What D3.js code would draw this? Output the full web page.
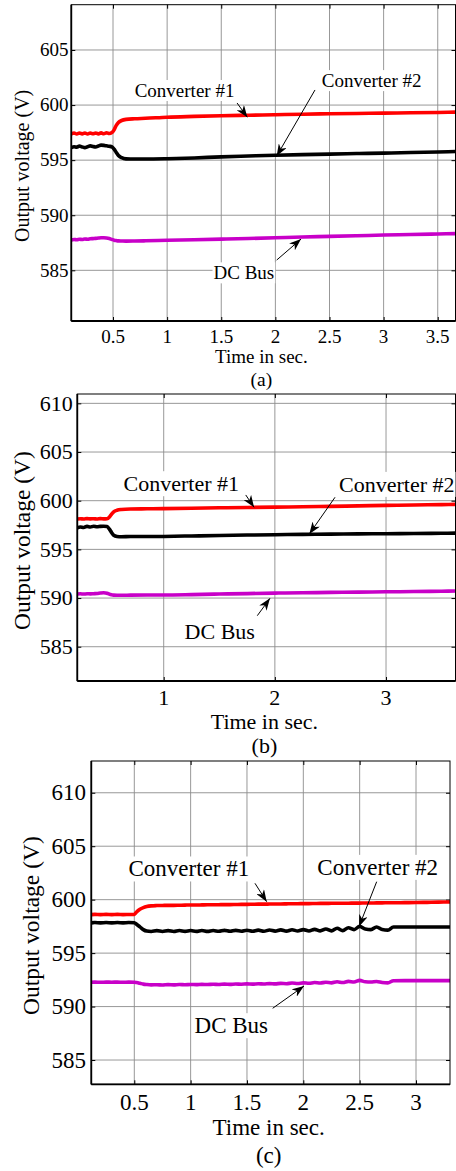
<!DOCTYPE html>
<html>
<head>
<meta charset="utf-8">
<script src="https://cdn.jsdelivr.net/npm/d3@7"></script>
<style>
  html, body { margin: 0; padding: 0; background: #fff; }
  svg { display: block; }
  text { font-family: "Liberation Serif", "Times New Roman", Times, serif; fill: #000; }
</style>
</head>
<body>
<svg id="chart" width="456" height="1171"></svg>
<script>
// ---------------- DATA ----------------
// Panel (a)
const timeA = [0.115,0.14,0.165,0.19,0.215,0.24,0.265,0.29,0.315,0.34,0.365,0.39,0.415,0.44,0.465,0.49,0.51,0.53,0.55,0.58,0.62,0.7,0.8,1.0,1.25,1.5,1.75,2.0,2.25,2.5,2.75,3.0,3.25,3.5,3.665];
const conv1A = [597.38,597.46,597.37,597.47,597.38,597.46,597.37,597.47,597.39,597.47,597.38,597.48,597.40,597.49,597.42,597.50,597.75,598.15,598.42,598.6,598.7,598.76,598.8,598.9,598.97,599.03,599.08,599.12,599.17,599.21,599.24,599.27,599.3,599.33,599.36];
const conv2A = [596.15,596.22,596.18,596.28,596.2,596.14,596.22,596.3,596.24,596.2,596.28,596.36,596.34,596.3,596.26,596.2,596.0,595.7,595.42,595.22,595.12,595.1,595.1,595.13,595.2,595.3,595.38,595.45,595.5,595.55,595.6,595.64,595.69,595.74,595.78];
const dcA = [587.76,587.8,587.77,587.82,587.8,587.84,587.82,587.86,587.88,587.9,587.93,587.95,587.95,587.93,587.88,587.8,587.74,587.7,587.67,587.66,587.65,587.66,587.68,587.73,587.78,587.83,587.89,587.95,588.02,588.08,588.14,588.2,588.25,588.3,588.33];
const xTicksA = [0.5,1,1.5,2,2.5,3,3.5];
const yTicksA = [585,590,595,600,605];

// Panel (b)
const timeB = [0.223,0.25,0.28,0.31,0.34,0.37,0.4,0.43,0.46,0.49,0.51,0.53,0.55,0.58,0.62,0.7,0.85,1.0,1.25,1.5,1.75,2.0,2.25,2.5,2.75,3.0,3.25,3.5,3.625];
const conv1B = [598.12,598.15,598.12,598.16,598.13,598.15,598.12,598.16,598.13,598.15,598.3,598.6,598.85,599.02,599.1,599.15,599.17,599.19,599.23,599.27,599.3,599.34,599.38,599.42,599.47,599.52,599.56,599.6,599.62];
const conv2B = [597.22,597.3,597.25,597.36,597.3,597.38,597.32,597.36,597.38,597.35,597.1,596.75,596.45,596.33,596.3,596.32,596.32,596.33,596.38,596.42,596.47,596.51,596.54,596.57,596.59,596.61,596.63,596.65,596.67];
const dcB = [590.42,590.44,590.41,590.44,590.43,590.45,590.47,590.52,590.55,590.5,590.4,590.33,590.3,590.29,590.29,590.3,590.31,590.31,590.35,590.41,590.46,590.51,590.54,590.58,590.61,590.64,590.67,590.7,590.72];
const xTicksB = [1,2,3];
const yTicksB = [585,590,595,600,605,610];

// Panel (c)
const timeC = [0.118,0.15,0.2,0.25,0.3,0.35,0.4,0.45,0.5,0.52,0.55,0.58,0.61,0.65,
  0.7,0.75,0.8,0.85,0.9,0.95,1.0,1.05,1.1,1.15,1.2,1.25,1.3,1.35,1.4,1.45,1.5,1.55,1.6,1.65,1.7,1.75,1.8,1.85,1.9,1.95,2.0,2.05,2.1,2.15,2.2,2.25,2.3,2.35,2.4,2.45,2.5,2.55,2.6,2.65,2.7,2.75,2.8,
  2.9,3.0,3.1,3.2,3.302];
const conv1C = [598.6,598.62,598.6,598.62,598.6,598.62,598.6,598.61,598.62,598.85,599.1,599.25,599.35,599.42,
  599.45,599.46,599.47,599.47,599.48,599.49,599.5,599.5,599.51,599.52,599.52,599.53,599.54,599.54,599.55,599.56,599.56,599.57,599.58,599.58,599.59,599.6,599.6,599.61,599.62,599.62,599.63,599.63,599.64,599.65,599.65,599.66,599.66,599.67,599.67,599.68,599.68,599.69,599.69,599.7,599.7,599.71,599.71,
  599.72,599.73,599.75,599.77,599.78];
const conv2C = [597.83,597.86,597.83,597.86,597.83,597.86,597.83,597.86,597.84,597.7,597.45,597.2,597.06,597.02,
  597.1,597.02,597.1,597.02,597.11,597.03,597.11,597.03,597.12,597.03,597.12,597.04,597.13,597.04,597.13,597.05,597.14,597.05,597.15,597.05,597.16,597.06,597.17,597.06,597.18,597.07,597.2,597.07,597.22,597.08,597.26,597.08,597.32,597.1,597.38,597.2,597.5,597.25,597.2,597.45,597.2,597.15,597.45,
  597.45,597.45,597.45,597.45,597.45];
const dcC = [592.27,592.29,592.27,592.29,592.28,592.29,592.27,592.29,592.28,592.25,592.18,592.1,592.06,592.03,
  592.04,592.02,592.05,592.03,592.06,592.04,592.07,592.05,592.08,592.06,592.09,592.07,592.1,592.08,592.11,592.09,592.12,592.1,592.13,592.11,592.15,592.12,592.17,592.14,592.2,592.16,592.22,592.18,592.25,592.2,592.28,592.22,592.32,592.25,592.36,592.3,592.45,592.32,592.3,592.35,592.25,592.22,592.42,
  592.43,592.43,592.43,592.43,592.43];
const xTicksC = [0.5,1,1.5,2,2.5,3];
const yTicksC = [585,590,595,600,605,610];

const seriesNames = ["Converter #1", "Converter #2", "DC Bus"];
const xLabel = "Time in sec.";
const yLabel = "Output voltage (V)";
const panelLabels = ["(a)", "(b)", "(c)"];

// annotation anchors in data units: [textT, textV, arrowStartT, arrowStartV, arrowEndT, arrowEndV]
const annotA = [[1.161,601.30,1.646,600.19,1.741,598.89],[2.89,602.2,2.366,601.37,2.012,595.37],[1.709,584.75,2.012,585.93,2.237,587.84]];
const annotB = [[1.158,601.72,1.738,600.59,1.813,599.32],[3.097,601.65,2.541,600.35,2.31,596.58],[1.504,586.5,1.842,588.19,1.956,589.97]];
const annotC = [[0.984,602.88,1.571,601.53,1.675,599.81],[2.66,603.03,2.651,601.68,2.494,597.47],[1.361,588.22,1.728,589.84,2.006,591.92]];

// ---------------- LAYOUT ----------------
const colors = ["#ff0000", "#000000", "#c800c8"];
const svg = d3.select("#chart");

const defs = svg.append("defs");
defs.append("marker")
  .attr("id", "arrowhead")
  .attr("viewBox", "0 0 12 9")
  .attr("refX", 12).attr("refY", 4.5)
  .attr("markerWidth", 12).attr("markerHeight", 9)
  .attr("markerUnits", "userSpaceOnUse")
  .attr("orient", "auto")
  .append("path")
  .attr("d", "M0,0 L12,4.5 L0,9 L3.5,4.5 Z")
  .attr("fill", "#000");

const panels = [
  { id: "a", time: timeA, series: [conv1A, conv2A, dcA], xTicks: xTicksA, yTicks: yTicksA,
    xDom: [0.1147, 3.664], yDom: [580.4, 609.11], left: 71.3, top: 4.7, right: 455.5, bottom: 321,
    fs: 19, labFs: 20, panFs: 19.5, yTickX: 68.5, xTickBase: 342.7, xLabBase: 363, panBase: 386, yLabX: 29.3,
    annot: annotA, tickFmt: d => String(d) },
  { id: "b", time: timeB, series: [conv1B, conv2B, dcB], xTicks: xTicksB, yTicks: yTicksB,
    xDom: [0.2227, 3.625], yDom: [581.48, 610.96], left: 77.3, top: 394, right: 455.5, bottom: 681,
    fs: 22, labFs: 23.5, panFs: 22, yTickX: 72.7, xTickBase: 705, xLabBase: 728.5, panBase: 753, yLabX: 30.3,
    annot: annotB, tickFmt: d => String(d) },
  { id: "c", time: timeC, series: [conv1C, conv2C, dcC], xTicks: xTicksC, yTicks: yTicksC,
    xDom: [0.1184, 3.3017], yDom: [582.73, 612.97], left: 91.3, top: 761, right: 450, bottom: 1084.3,
    fs: 23, labFs: 23.5, panFs: 23, yTickX: 86, xTickBase: 1110, xLabBase: 1134.5, panBase: 1163, yLabX: 38.6,
    annot: annotC, tickFmt: d => String(d) }
];

panels.forEach((p, pi) => {
  const x = d3.scaleLinear().domain(p.xDom).range([p.left, p.right]);
  const y = d3.scaleLinear().domain(p.yDom).range([p.bottom, p.top]);
  const g = svg.append("g");

  defs.append("clipPath").attr("id", "clip-" + p.id)
    .append("rect").attr("x", p.left).attr("y", p.top)
    .attr("width", p.right - p.left).attr("height", p.bottom - p.top);

  // grid
  const grid = g.append("g").attr("stroke", "#8c8c8c").attr("stroke-width", 0.9);
  grid.selectAll("line.vx").data(p.xTicks).join("line")
    .attr("x1", d => x(d)).attr("x2", d => x(d)).attr("y1", p.top).attr("y2", p.bottom);
  grid.selectAll("line.hy").data(p.yTicks).join("line")
    .attr("x1", p.left).attr("x2", p.right).attr("y1", d => y(d)).attr("y2", d => y(d));

  // inner tick marks via axes
  const tl = 4;
  g.append("g").attr("transform", `translate(0,${p.bottom})`)
    .call(d3.axisTop(x).tickValues(p.xTicks).tickSize(tl).tickFormat(""))
    .call(s => s.select(".domain").remove());
  g.append("g").attr("transform", `translate(0,${p.top})`)
    .call(d3.axisBottom(x).tickValues(p.xTicks).tickSize(tl).tickFormat(""))
    .call(s => s.select(".domain").remove());
  g.append("g").attr("transform", `translate(${p.left},0)`)
    .call(d3.axisRight(y).tickValues(p.yTicks).tickSize(tl).tickFormat(""))
    .call(s => s.select(".domain").remove());
  g.append("g").attr("transform", `translate(${p.right},0)`)
    .call(d3.axisLeft(y).tickValues(p.yTicks).tickSize(tl).tickFormat(""))
    .call(s => s.select(".domain").remove());

  // data lines
  const line = d3.line().x((d, i) => x(p.time[i])).y(d => y(d)).curve(d3.curveMonotoneX);
  const lg = g.append("g").attr("clip-path", `url(#clip-${p.id})`);
  [2, 1, 0].forEach(si => {
    lg.append("path").datum(p.series[si])
      .attr("d", line).attr("fill", "none")
      .attr("stroke", colors[si]).attr("stroke-width", 3.6)
      .attr("stroke-linejoin", "round").attr("stroke-linecap", "butt");
  });

  // frame
  g.append("rect").attr("x", p.left).attr("y", p.top)
    .attr("width", p.right - p.left).attr("height", p.bottom - p.top)
    .attr("fill", "none").attr("stroke", "#000").attr("stroke-width", 1);
  g.append("line").attr("x1", p.left).attr("x2", p.left).attr("y1", p.top).attr("y2", p.bottom)
    .attr("stroke", "#000").attr("stroke-width", 1.8);
  g.append("line").attr("x1", p.left).attr("x2", p.right).attr("y1", p.bottom).attr("y2", p.bottom)
    .attr("stroke", "#000").attr("stroke-width", 1.8);

  // tick labels
  g.selectAll("text.xt").data(p.xTicks).join("text")
    .attr("x", d => x(d)).attr("y", p.xTickBase)
    .attr("text-anchor", "middle").attr("font-size", p.fs)
    .text(p.tickFmt);
  g.selectAll("text.yt").data(p.yTicks).join("text")
    .attr("x", p.yTickX).attr("y", d => y(d) + 0.33 * p.fs)
    .attr("text-anchor", "end").attr("font-size", p.fs)
    .text(p.tickFmt);

  // axis labels
  g.append("text").attr("x", (p.left + p.right) / 2 - 2).attr("y", p.xLabBase)
    .attr("text-anchor", "middle").attr("font-size", p.fs).text(xLabel);
  g.append("text").attr("x", (p.left + p.right) / 2 - 2).attr("y", p.panBase)
    .attr("text-anchor", "middle").attr("font-size", p.panFs).text(panelLabels[pi]);
  const ymid = (p.top + p.bottom) / 2;
  g.append("text")
    .attr("transform", `translate(${p.yLabX},${ymid + 3}) rotate(-90)`)
    .attr("text-anchor", "middle").attr("font-size", p.labFs).text(yLabel);

  // annotations
  p.annot.forEach((a, ai) => {
    const t = g.append("text").attr("x", x(a[0])).attr("y", y(a[1]) + 0.33 * p.fs)
      .attr("text-anchor", "middle").attr("font-size", p.fs).text(seriesNames[ai]);
    const bb = t.node().getBBox();
    g.insert("rect", () => t.node())
      .attr("x", bb.x - 1).attr("y", bb.y).attr("width", bb.width + 2).attr("height", bb.height)
      .attr("fill", "#fff");
    g.append("line")
      .attr("x1", x(a[2])).attr("y1", y(a[3])).attr("x2", x(a[4])).attr("y2", y(a[5]))
      .attr("stroke", "#000").attr("stroke-width", 1)
      .attr("marker-end", "url(#arrowhead)");
  });
});
</script>
</body>
</html>
